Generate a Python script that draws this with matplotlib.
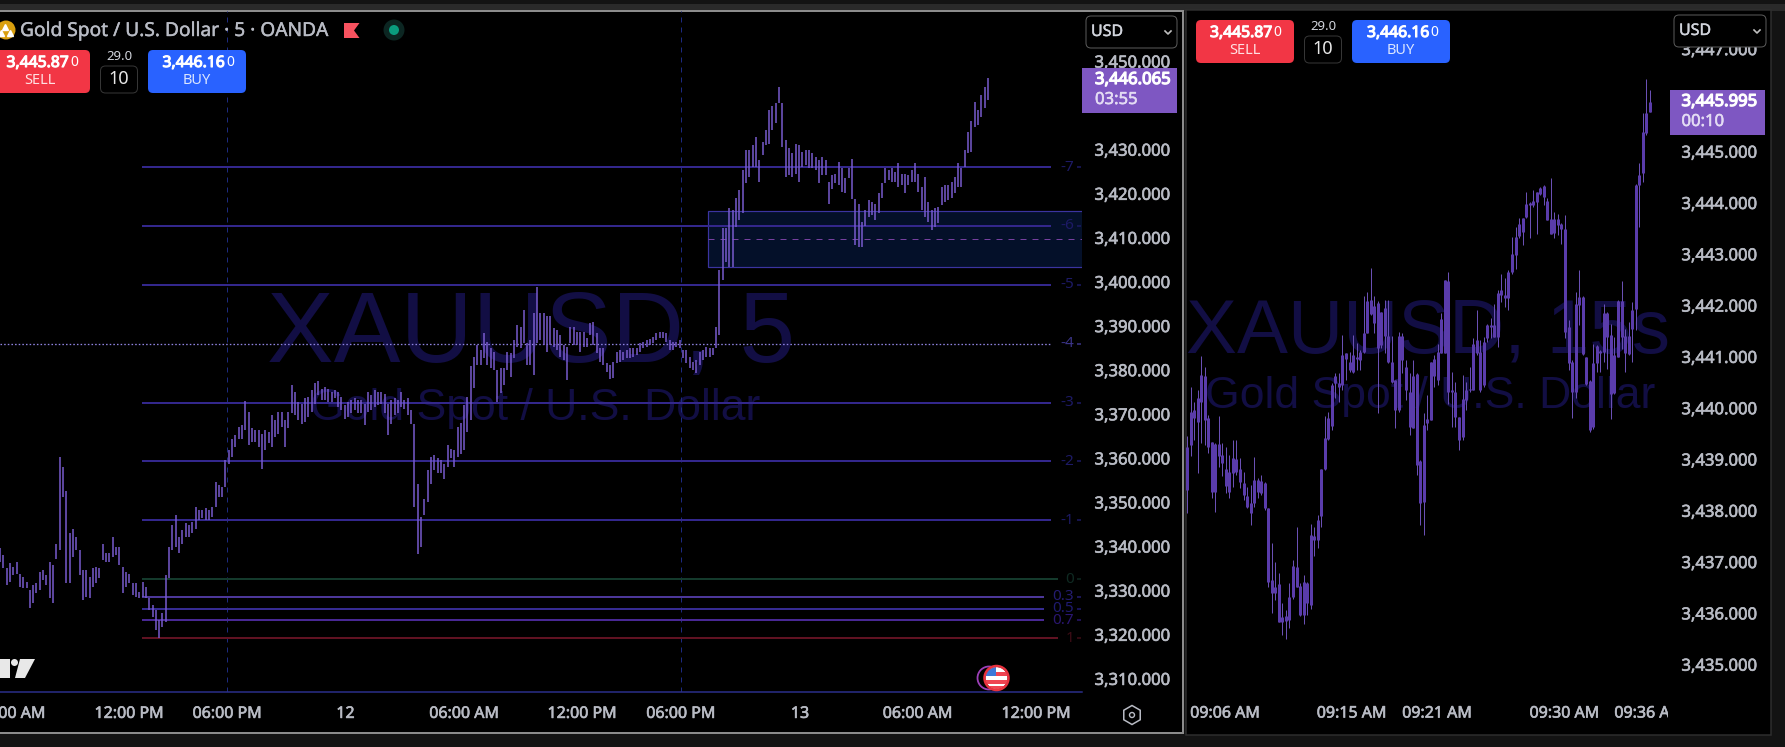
import numpy as np
import matplotlib
matplotlib.use("Agg")
import matplotlib.pyplot as plt
import matplotlib.patheffects as pe
from matplotlib.patches import Rectangle, FancyBboxPatch, Circle, Polygon, RegularPolygon

plt.rcParams['font.family'] = ['Noto Sans', 'DejaVu Sans']

# ---------- data: left pane (5 minute chart, every second bar) ----------
left_highs = [
 3339.6,3338.1,3335.1,3336.2,3335.4,3336.6,3333.9,3333.2,3332.0,3330.1,
 3331.3,3331.7,3334.3,3334.7,3333.6,3336.6,3335.8,3340.7,3360.4,3358.1,
 3352.5,3343.0,3344.1,3342.2,3339.2,3334.7,3334.7,3333.2,3335.1,3335.4,
 3335.1,3340.7,3338.5,3338.5,3342.2,3340.0,3340.0,3335.4,3334.3,3333.9,
 3331.7,3331.7,3329.8,3332.0,3330.9,3328.3,3326.8,3325.6,3323.3,3324.9,
 3333.6,3340.0,3344.9,3347.2,3342.2,3343.8,3345.3,3344.9,3345.6,3349.0,
 3348.3,3348.3,3348.7,3348.3,3349.0,3354.7,3354.0,3353.6,3359.6,
 3361.9,3364.5,3365.3,3367.1,3367.5,3373.0,3370.6,3366.8,3366.4,3366.4,
 3365.6,3366.4,3366.0,3369.8,3368.7,3370.6,3370.6,3368.7,3370.6,3376.6,
 3375.1,3372.8,3372.4,3373.6,3374.0,3375.5,3377.0,3377.5,3375.8,3376.2,
 3375.8,3375.1,3375.5,3375.1,3374.0,3372.1,3372.8,3373.2,3373.6,3373.3,
 3373.2,3372.4,3375.1,3374.3,3375.5,3375.1,3375.1,3374.7,3372.4,3373.2,
 3373.6,3373.2,3375.1,3373.2,3373.6,3370.9,3367.9,3354.3,3346.7,3350.9,
 3357.3,3360.3,3360.7,3360.0,3359.6,3358.8,3363.0,3362.2,3361.9,3367.1,
 3368.0,3372.0,3374.0,
 3381.0,3383.1,3385.7,3384.6,3388.4,3386.5,3385.0,3384.2,3380.1,3380.4,
 3380.4,3384.2,3383.8,3386.9,3390.3,3389.9,3393.7,3386.1,3386.9,3392.9,
 3398.9,3392.9,3392.9,3392.2,3392.2,3389.5,3389.1,3388.0,3385.7,3385.3,
 3389.9,3389.9,3388.7,3388.7,3388.7,3387.2,3390.6,3391.0,3388.4,3385.0,
 3385.0,3381.6,3381.2,3381.9,3384.2,3384.6,3384.2,3384.6,3385.0,3385.0,
 3385.0,3386.1,3386.5,3386.9,3387.0,3387.6,3388.4,3388.7,3388.7,3388.4,
 3386.9,3386.5,3386.5,3386.9,3384.6,3384.6,3383.1,3381.9,3382.3,3384.2,
 3384.6,3385.3,3385.0,3385.0,3389.9,
 3402.7,3412.2,3412.2,3416.7,3416.3,3419.0,3420.9,3425.4,3430.0,3430.0,
 3431.1,3432.9,3427.7,3431.8,3434.5,3439.0,3439.8,3440.5,3444.3,3440.5,
 3432.2,3430.3,3429.2,3431.4,3431.1,3429.5,3429.9,3429.9,3429.2,3428.4,
 3427.7,3428.4,3427.7,3422.7,3424.3,3424.6,3427.3,3425.8,3423.5,3425.8,
 3428.0,3418.9,3417.8,3413.7,3416.3,3418.6,3418.2,3417.8,3420.1,3422.4,
 3425.8,3425.4,3425.8,3425.0,3426.9,3424.6,3424.6,3424.3,3425.4,3426.9,
 3424.6,3421.6,3423.9,3418.2,3416.3,3416.7,3417.1,3421.6,3422.0,3422.0,
 3422.7,3423.9,3426.9,3425.8,3429.9,3434.1,3436.4,3440.9,3439.0,3442.4,
 3444.3,3446.2]
left_lows = [
 3336.6,3335.1,3331.3,3332.0,3333.6,3333.9,3330.9,3330.5,3330.5,3326.0,
 3327.1,3329.4,3330.1,3332.4,3331.3,3328.3,3327.1,3337.3,3339.2,3351.3,
 3331.7,3331.7,3337.7,3339.2,3333.6,3327.9,3328.6,3328.3,3330.9,3331.7,
 3332.8,3336.9,3336.6,3336.6,3337.7,3338.1,3335.8,3329.4,3330.9,3331.7,
 3329.0,3328.6,3328.3,3328.6,3328.3,3325.6,3324.1,3321.1,3319.2,3321.8,
 3323.0,3332.8,3339.2,3340.0,3338.5,3340.7,3342.2,3342.2,3343.0,3344.1,
 3346.0,3346.4,3346.0,3346.0,3346.8,3349.0,3351.3,3351.3,3353.6,
 3358.8,3360.3,3362.6,3364.5,3364.5,3366.4,3363.0,3363.7,3363.7,3362.6,
 3357.7,3361.9,3363.4,3362.6,3364.9,3365.6,3367.1,3362.5,3366.8,3370.2,
 3369.8,3368.7,3367.9,3368.3,3369.4,3370.6,3372.4,3374.3,3373.2,3373.2,
 3372.8,3372.8,3373.6,3371.7,3370.9,3369.0,3369.4,3370.2,3370.9,3370.2,
 3370.2,3367.5,3370.6,3370.9,3371.7,3372.1,3372.4,3370.2,3365.3,3367.9,
 3369.8,3370.2,3371.7,3371.3,3369.8,3367.9,3349.0,3338.4,3339.9,3347.1,
 3350.1,3354.3,3357.3,3356.6,3356.6,3355.4,3358.1,3360.0,3358.1,3360.3,
 3361.0,3362.0,3366.0,
 3368.7,3376.0,3381.2,3381.2,3382.7,3381.2,3380.4,3380.1,3372.9,3374.8,
 3376.7,3380.1,3378.5,3382.7,3385.3,3385.0,3386.1,3381.2,3381.2,3378.9,
 3386.1,3386.9,3385.7,3384.2,3385.7,3385.3,3384.6,3383.1,3382.3,3377.8,
 3386.1,3385.7,3385.7,3384.2,3385.3,3385.3,3388.0,3385.7,3383.8,3381.9,
 3381.2,3379.7,3377.9,3378.2,3381.6,3381.9,3382.3,3382.7,3382.7,3383.1,
 3383.5,3384.2,3385.0,3385.3,3385.7,3386.1,3386.9,3387.2,3387.2,3386.5,
 3384.6,3384.6,3385.3,3385.0,3382.7,3381.6,3380.4,3380.1,3379.3,3381.2,
 3382.3,3383.1,3383.1,3383.5,3385.0,
 3388.0,3400.4,3404.6,3403.5,3403.5,3412.5,3414.1,3415.6,3422.4,3423.9,
 3426.1,3426.1,3422.7,3428.8,3431.1,3431.4,3434.5,3436.0,3440.5,3430.7,
 3423.9,3424.3,3423.9,3424.6,3422.7,3426.1,3426.5,3425.8,3425.8,3425.4,
 3422.4,3424.3,3424.3,3417.8,3421.2,3422.4,3422.0,3420.5,3420.1,3423.5,
 3418.9,3408.4,3408.0,3408.0,3412.6,3414.8,3415.2,3414.1,3415.6,3419.0,
 3422.4,3423.1,3422.7,3422.7,3421.6,3422.0,3420.1,3422.0,3422.7,3422.7,
 3420.5,3416.3,3414.8,3413.7,3411.8,3412.5,3413.3,3417.5,3418.2,3418.6,
 3419.0,3420.1,3421.6,3421.6,3426.1,3429.2,3429.5,3435.2,3435.6,3437.5,
 3439.4,3441.3]

fib_labels = ["-7","-6","-5","-4","-3","-2","-1","0","0.3","0.5","0.7","1"]
fib_prices = [3426.05,3412.7,3399.35,3386.0,3372.65,3359.3,3345.95,3332.6,3328.6,3325.9,3323.25,3319.25]
fib_colors = ["#33278c","#33278c","#33278c","#9084e2","#33278c","#33278c","#33278c",
              "#143a2c","#4c3799","#362b92","#482894","#601222"]
fib_text_colors = ["#1d1a66","#1d1a66","#1d1a66","#3b3488","#1d1a66","#1d1a66","#1d1a66",
                   "#0f2a22","#241c70","#1f1a70","#2a1670","#3f0d16"]
zone_top, zone_mid, zone_bottom = 3416.0, 3409.7, 3403.3
left_price_ticks = [3310,3320,3330,3340,3350,3360,3370,3380,3390,3400,3410,3420,3430,3450]
left_time_labels = ["06:00 AM","12:00 PM","06:00 PM","12","06:00 AM","12:00 PM","06:00 PM","13","06:00 AM","12:00 PM"]

# ---------- data: right pane (15 second chart) ----------
right_highs = [
 3439.45,3440.42,3440.13,3440.36,3441.01,3440.81,3439.87,3439.35,3439.32,3439.84,
 3439.32,3439.25,3439.09,3439.38,3439.38,3439.02,3438.76,3438.47,3438.50,3439.04,
 3438.63,3438.70,3438.57,3438.05,3437.37,3437.01,3436.78,3436.20,3436.07,3436.59,
 3437.05,3437.68,3436.59,3436.75,3436.62,3437.75,3437.69,3437.92,3438.81,3439.84,
 3439.93,3440.49,3440.68,3440.68,3441.43,3441.07,3441.10,3441.43,3441.27,3441.14,
 3442.18,3442.27,3442.73,3442.18,3442.08,3441.88,3442.11,3442.11,3441.40,3440.55,
 3441.49,3441.46,3440.94,3440.68,3440.94,3440.68,3438.99,3439.90,3440.26,3440.91,
 3441.03,3441.26,3441.85,3442.50,3442.66,3440.71,3440.51,3439.83,3440.64,3440.51,
 3440.80,3441.36,3441.91,3441.32,3441.39,3441.65,3441.75,3442.04,3442.30,3442.62,
 3442.53,3442.69,3443.34,3443.53,3443.70,3443.70,3444.22,3444.02,3444.25,3444.22,
 3444.32,3444.35,3444.09,3444.48,3443.83,3443.78,3443.61,3443.76,3441.72,3440.94,
 3442.27,3442.70,3442.18,3440.99,3440.55,3441.26,3441.23,3441.13,3442.03,3441.88,
 3441.65,3441.39,3442.11,3442.48,3441.55,3441.68,3442.07,3444.38,3444.77,3445.75,
 3446.41,3446.20]
right_body_tops = [
 3439.25,3439.93,3439.96,3440.19,3440.65,3440.62,3439.80,3439.35,3439.30,3439.30,
 3439.09,3438.81,3438.76,3439.02,3439.01,3438.81,3438.55,3438.29,3438.15,3438.60,
 3438.60,3438.58,3438.54,3438.05,3436.65,3436.52,3436.57,3435.93,3435.95,3436.31,
 3436.92,3436.91,3436.53,3436.62,3436.60,3437.53,3437.51,3437.82,3438.81,3439.41,
 3439.80,3440.45,3440.63,3440.49,3441.04,3441.07,3440.91,3441.04,3441.00,3441.10,
 3441.46,3442.08,3442.10,3441.99,3442.05,3441.88,3441.95,3441.41,3440.91,3440.54,
 3441.40,3441.40,3440.80,3440.32,3440.63,3440.66,3438.97,3439.67,3439.78,3440.91,
 3440.95,3441.10,3441.73,3442.50,3442.48,3440.36,3440.32,3439.83,3440.17,3440.36,
 3440.38,3441.26,3441.32,3441.10,3441.29,3441.62,3441.62,3441.62,3442.24,3442.30,
 3442.20,3442.66,3443.00,3443.34,3443.59,3443.70,3443.99,3444.00,3444.04,3444.22,
 3444.30,3444.33,3444.04,3443.68,3443.68,3443.68,3443.59,3443.50,3441.59,3440.90,
 3442.03,3442.17,3442.17,3440.99,3440.53,3440.88,3441.21,3441.12,3441.85,3441.86,
 3441.42,3441.03,3442.09,3442.09,3441.40,3441.40,3441.92,3444.35,3444.54,3445.39,
 3445.75,3445.96]
right_body_bottoms = [
 3438.41,3439.28,3439.80,3439.74,3440.13,3439.77,3439.25,3438.37,3438.37,3439.06,
 3438.94,3438.48,3438.37,3438.73,3438.76,3438.57,3438.31,3438.08,3437.95,3438.15,
 3438.37,3438.34,3438.05,3436.62,3436.39,3436.39,3435.84,3435.84,3435.86,3435.87,
 3436.31,3436.52,3435.97,3435.97,3436.20,3436.16,3437.44,3437.43,3437.90,3438.81,
 3439.39,3439.65,3440.49,3440.41,3440.45,3440.95,3440.75,3440.71,3440.95,3440.94,
 3441.10,3441.47,3441.84,3441.66,3441.17,3441.23,3441.40,3440.91,3440.52,3439.96,
 3439.96,3440.94,3440.36,3439.64,3439.61,3438.89,3438.15,3438.18,3439.72,3439.77,
 3440.62,3440.54,3441.07,3441.07,3440.32,3440.32,3439.83,3439.38,3439.44,3440.16,
 3440.35,3440.36,3441.07,3440.35,3440.45,3441.36,3441.59,3441.39,3441.39,3442.20,
 3442.14,3442.14,3442.66,3442.98,3443.35,3443.44,3443.73,3443.96,3443.96,3444.02,
 3444.17,3444.12,3443.67,3443.40,3443.42,3443.57,3443.50,3441.49,3440.88,3440.32,
 3440.32,3442.01,3441.05,3440.48,3439.57,3439.64,3440.88,3441.07,3441.10,3441.39,
 3440.28,3440.30,3441.00,3441.39,3441.07,3441.05,3441.55,3441.94,3444.35,3444.58,
 3445.36,3445.78]
right_lows = [
 3437.95,3439.06,3439.38,3438.73,3439.32,3439.28,3439.12,3438.24,3437.98,3438.86,
 3438.67,3438.34,3438.24,3438.47,3438.70,3438.44,3438.21,3438.05,3437.72,3438.08,
 3438.24,3438.31,3438.02,3436.52,3436.00,3436.26,3435.84,3435.58,3435.51,3435.71,
 3436.29,3436.52,3435.94,3435.80,3435.97,3436.08,3437.11,3437.27,3437.69,3438.80,
 3439.38,3439.58,3440.19,3440.13,3440.36,3440.55,3440.71,3440.68,3440.75,3440.75,
 3441.07,3441.46,3441.82,3441.46,3439.90,3441.17,3441.07,3440.88,3440.49,3439.61,
 3439.93,3440.68,3440.16,3439.48,3439.61,3438.70,3437.72,3437.53,3439.58,3439.77,
 3440.41,3440.45,3441.07,3441.07,3440.09,3439.64,3439.64,3439.18,3439.38,3439.96,
 3440.32,3440.35,3441.03,3440.32,3440.41,3441.29,3441.36,3441.39,3441.20,3442.07,
 3441.98,3441.91,3442.62,3442.72,3443.31,3443.18,3443.70,3443.31,3443.93,3443.40,
 3444.15,3443.96,3443.67,3443.39,3443.31,3443.37,3443.21,3441.36,3440.74,3439.80,
 3440.19,3441.62,3441.03,3440.45,3439.54,3439.60,3440.71,3440.71,3440.90,3440.77,
 3439.78,3440.27,3441.00,3441.16,3440.71,3441.03,3440.90,3441.52,3443.53,3444.41,
 3445.32,3445.78]
right_price_ticks = [3435,3436,3437,3438,3439,3440,3441,3442,3443,3444,3445,3447]
right_time_labels = ["09:06 AM","09:15 AM","09:21 AM","09:30 AM","09:36 AM"]

# ---------- layout helpers ----------
W, H = 1785, 747
fig = plt.figure(figsize=(W/100, H/100), dpi=100, facecolor="#131313")
TXT = "#b8bbc4"
PX = 0.72  # one pixel in points

def heavy(color, amount=0.45):
    return [pe.withStroke(linewidth=amount, foreground=color)]

def pixel_axes(zorder):
    a = fig.add_axes([0, 0, 1, 1], zorder=zorder)
    a.set_xlim(0, W); a.set_ylim(H, 0); a.axis("off")
    a.patch.set_alpha(0)
    return a

def pane_axes(x0, x1, y0, y1, zorder=1):
    a = fig.add_axes([x0/W, 1-y1/H, (x1-x0)/W, (y1-y0)/H], zorder=zorder)
    a.patch.set_alpha(0)
    for s in a.spines.values():
        s.set_visible(False)
    return a

bg = pixel_axes(0)
ui = pixel_axes(5)

# window frame
bg.add_patch(Rectangle((0, 4), W, 7, color="#2a2a2a", lw=0))
bg.add_patch(Rectangle((-3, 11), 1186, 722, fc="#000000", ec="#8c8c8c", lw=2*PX))
bg.add_patch(Rectangle((1186, 10), 585, 725, fc="#000000", ec="#2e2e2e", lw=1.5*PX))

# watermarks
WM = "#120e44"
bg.text(267, 362, "XAUUSD, 5", color=WM, fontsize=72, family="Liberation Sans", va="baseline")
bg.text(310, 420, "Gold Spot / U.S. Dollar", color=WM, fontsize=32, family="Liberation Sans", va="baseline")
bg.text(1186, 352, "XAUUSD, 15s", color=WM, fontsize=55, family="Liberation Sans", va="baseline")
bg.text(1205, 408, "Gold Spot / U.S. Dollar", color=WM, fontsize=32, family="Liberation Sans", va="baseline")

# ---------- left pane ----------
ax = pane_axes(0, 1082, 11, 692)
n_left = len(left_highs)
step = 988 / (n_left - 1)       # pixels per plotted bar
ax.set_xlim(0, 1082 / step)
ax.set_ylim(3450 - (692 - 61.5) / 4.41, 3450 + (61.5 - 11) / 4.41)
xs = np.arange(n_left)

for xp in (226.5, 680.7):
    ax.axvline(xp / step, color="#1d2a80", lw=1*PX, ls=(0, (5, 5)), zorder=1)

ax.add_patch(Rectangle((707.5/step, zone_bottom), (1090-707.5)/step, zone_top-zone_bottom,
                       fc="#041029", ec="#3b34a0", lw=1.2*PX, zorder=1))
ax.hlines(zone_mid, 707.5/step, 1082/step, color="#75409f", lw=1*PX, linestyles=(0, (6, 6)), zorder=2)

for lab, p, c, tc in zip(fib_labels, fib_prices, fib_colors, fib_text_colors):
    end = 1044 if lab in ("0.3", "0.5", "0.7") else (1058 if lab in ("0", "1") else 1051)
    if lab == "-4":
        ax.hlines(p, 0, end/step, color=c, lw=1.3*PX, linestyles=(0, (1.2, 1.6)), zorder=3)
    else:
        ax.hlines(p, 142/step, end/step, color=c, lw=2*PX, zorder=2)
    ax.hlines(p, 1077/step, 1081/step, color=tc, lw=1.5*PX, zorder=2)
    ax.text(1074/step, p, lab, color=tc, fontsize=11, ha="right", va="center", zorder=2)

ax.vlines(xs, left_lows, left_highs, color="#7a5cd0", lw=1.5*PX, zorder=4)

ax.spines["bottom"].set_visible(True)
ax.spines["bottom"].set_color("#2b2f8c")
ax.spines["bottom"].set_linewidth(1.5*PX)
ax.yaxis.tick_right()
ax.set_yticks(left_price_ticks)
ax.set_yticklabels([f"{v:,.3f}" for v in left_price_ticks])
ax.tick_params(axis="y", length=0, pad=9, labelsize=12, labelcolor=TXT)
left_tick_px = np.array([10.5, 129, 227, 345.5, 464, 582, 680.7, 800, 917.5, 1036])
ax.set_xticks(left_tick_px / step)
ax.set_xticklabels(left_time_labels)
ax.tick_params(axis="x", length=0, pad=10, labelsize=11.5, labelcolor=TXT)

# ---------- right pane ----------
axr = pane_axes(1186, 1671, 11, 700)
cstep = 3.54
axr.set_xlim(-1/cstep, 485/cstep)
axr.set_ylim(3445 - (700 - 151.7) / 51.3, 3445 + (151.7 - 11) / 51.3)
rx = np.arange(len(right_highs))
axr.vlines(rx, right_lows, right_highs, color="#6a50b4", lw=1*PX, zorder=3)
axr.vlines(rx, right_body_bottoms, right_body_tops, color="#5a3cab", lw=3*PX, zorder=4)
axr.yaxis.tick_right()
axr.set_yticks(right_price_ticks)
axr.set_yticklabels([f"{v:,.3f}" for v in right_price_ticks])
axr.tick_params(axis="y", length=0, pad=7.5, labelsize=12, labelcolor=TXT)
right_tick_px = np.array([1225, 1352, 1437.5, 1565, 1650])
axr.set_xticks((right_tick_px - 1187) / cstep)
axr.set_xticklabels(right_time_labels)
axr.tick_params(axis="x", length=0, pad=4, labelsize=11.5, labelcolor=TXT)
ui.add_patch(Rectangle((1668, 702), 100, 28, color="#000000", lw=0))

for a in (ax, axr):
    for t in a.get_xticklabels() + a.get_yticklabels():
        t.set_path_effects(heavy(TXT))

# ---------- chart chrome ----------
def button(x0, x1, y0, y1, fc, ec="none"):
    ui.add_patch(FancyBboxPatch((x0, y0), x1-x0, y1-y0, boxstyle="round,pad=0,rounding_size=5",
                                fc=fc, ec=ec, lw=1*PX, mutation_aspect=1))

def trade_panel(sx0, sx1, by0, by1, sell_tx, sell_lab, qty_x, buy_tx, buy_lab, y0):
    button(sx0, sx1, y0, y0+43, "#f23645")
    button(by0, by1, y0, y0+43, "#2962ff")
    t = ui.text(sell_tx, y0+13, "3,445.87", color="white", fontsize=11.3, ha="left", va="center")
    t.set_path_effects(heavy("white", 0.8))
    ui.text(sell_tx+63.5, y0+12, "0", color="white", fontsize=10, ha="left", va="center")
    ui.text(sell_lab, y0+31, "SELL", color="#ffe0e2", fontsize=10.5, ha="center", va="center")
    t = ui.text(buy_tx, y0+13, "3,446.16", color="white", fontsize=11.3, ha="left", va="center")
    t.set_path_effects(heavy("white", 0.8))
    ui.text(buy_tx+63.5, y0+12, "0", color="white", fontsize=10, ha="left", va="center")
    ui.text(buy_lab, y0+31, "BUY", color="#dbe6ff", fontsize=10.5, ha="center", va="center")
    ui.text(qty_x, y0+7, "29.0", color="#d1d4dc", fontsize=9.5, ha="center", va="center")
    button(qty_x-18.5, qty_x+18.5, y0+16, y0+43, "#000000", ec="#363636")
    ui.text(qty_x, y0+29, "10", color="#e8e8e8", fontsize=13, ha="center", va="center")

trade_panel(-10, 90, 148, 246, 6.5, 40, 119, 162.5, 197, 50)
trade_panel(1196, 1294, 1352, 1450, 1210, 1244.5, 1323, 1367, 1400.7, 20)

def usd_box(x0, x1, y0, y1):
    button(x0, x1, y0, y1, "#000000", ec="#5a5a5a")
    t = ui.text(x0+5, (y0+y1)/2, "USD", color="#d1d4dc", fontsize=11.5, ha="left", va="center")
    t.set_path_effects(heavy("#d1d4dc", 0.3))
    cx, cy = x1-9, (y0+y1)/2
    ui.plot([cx-3, cx, cx+3], [cy-1, cy+2, cy-1], color="#c0c0c0", lw=1.2)

usd_box(1086, 1177, 16, 48)
usd_box(1674, 1766, 15, 47)

def price_box(x0, x1, y0, y1, price, tm, tx):
    ui.add_patch(Rectangle((x0, y0), x1-x0, y1-y0, color="#7e57c2", lw=0))
    t = ui.text(tx, y0+12, price, color="white", fontsize=12, ha="left", va="center")
    t.set_path_effects(heavy("white", 0.9))
    t = ui.text(tx, y0+32, tm, color="#e4dcf4", fontsize=12, ha="left", va="center")
    t.set_path_effects(heavy("#e4dcf4", 0.4))

price_box(1082, 1177, 68, 113, "3,446.065", "03:55", 1095)
price_box(1670, 1765, 90, 135, "3,445.995", "00:10", 1681.5)

# header
ui.add_patch(Circle((6, 30), 9.5, color="#d99f0e", lw=0))
ui.plot([5], [27], marker="^", ms=4, color="white", lw=0)
ui.plot([1, 10], [33, 33], marker="^", ms=4, color="white", lw=0, ls="none")
t = ui.text(20, 31, "Gold Spot / U.S. Dollar \u00b7 5 \u00b7 OANDA", color=TXT, fontsize=13.8, ha="left", va="center")
t.set_path_effects(heavy(TXT, 0.3))
ui.add_patch(Polygon([(344, 23), (359.5, 23), (354, 30.5), (359.5, 38), (344, 38)], fc="#f7525f", lw=0))
ui.add_patch(Circle((394, 30), 10.5, color="#0c2622", lw=0))
ui.add_patch(Circle((394, 30), 5, color="#0a9b7d", lw=0))

# logo fragment
ui.add_patch(Polygon([(0, 659), (10, 659), (10, 678), (0, 678)], fc="#e8e8e8", lw=0))
ui.add_patch(Circle((14.5, 662.5), 3.5, color="#e8e8e8", lw=0))
ui.add_patch(Polygon([(20, 659), (35, 659), (25, 678), (15, 678)], fc="#e8e8e8", lw=0))

# gear icon
ui.add_patch(RegularPolygon((1132, 715), 6, radius=9.5, fc="none", ec=TXT, lw=1.1))
ui.add_patch(Circle((1132, 715), 2.5, fc="none", ec=TXT, lw=1))

# news flag
ui.add_patch(Circle((989, 678), 11.5, fc="#000000", ec="#9c3fb8", lw=1.3))
disc = Circle((996.5, 678), 11, fc="#ffffff", ec="none")
ui.add_patch(disc)
for yy in (672, 680, 686):
    s = Rectangle((985, yy), 24, 3.5, color="#ef4452", lw=0)
    ui.add_patch(s); s.set_clip_path(disc)
c = Rectangle((985, 666), 11, 10, color="#3d78d8", lw=0)
ui.add_patch(c); c.set_clip_path(disc)
ui.add_patch(Circle((996.5, 678), 12, fc="none", ec="#e8323f", lw=1.8))

fig.savefig("out.png", dpi=100, facecolor=fig.get_facecolor())
